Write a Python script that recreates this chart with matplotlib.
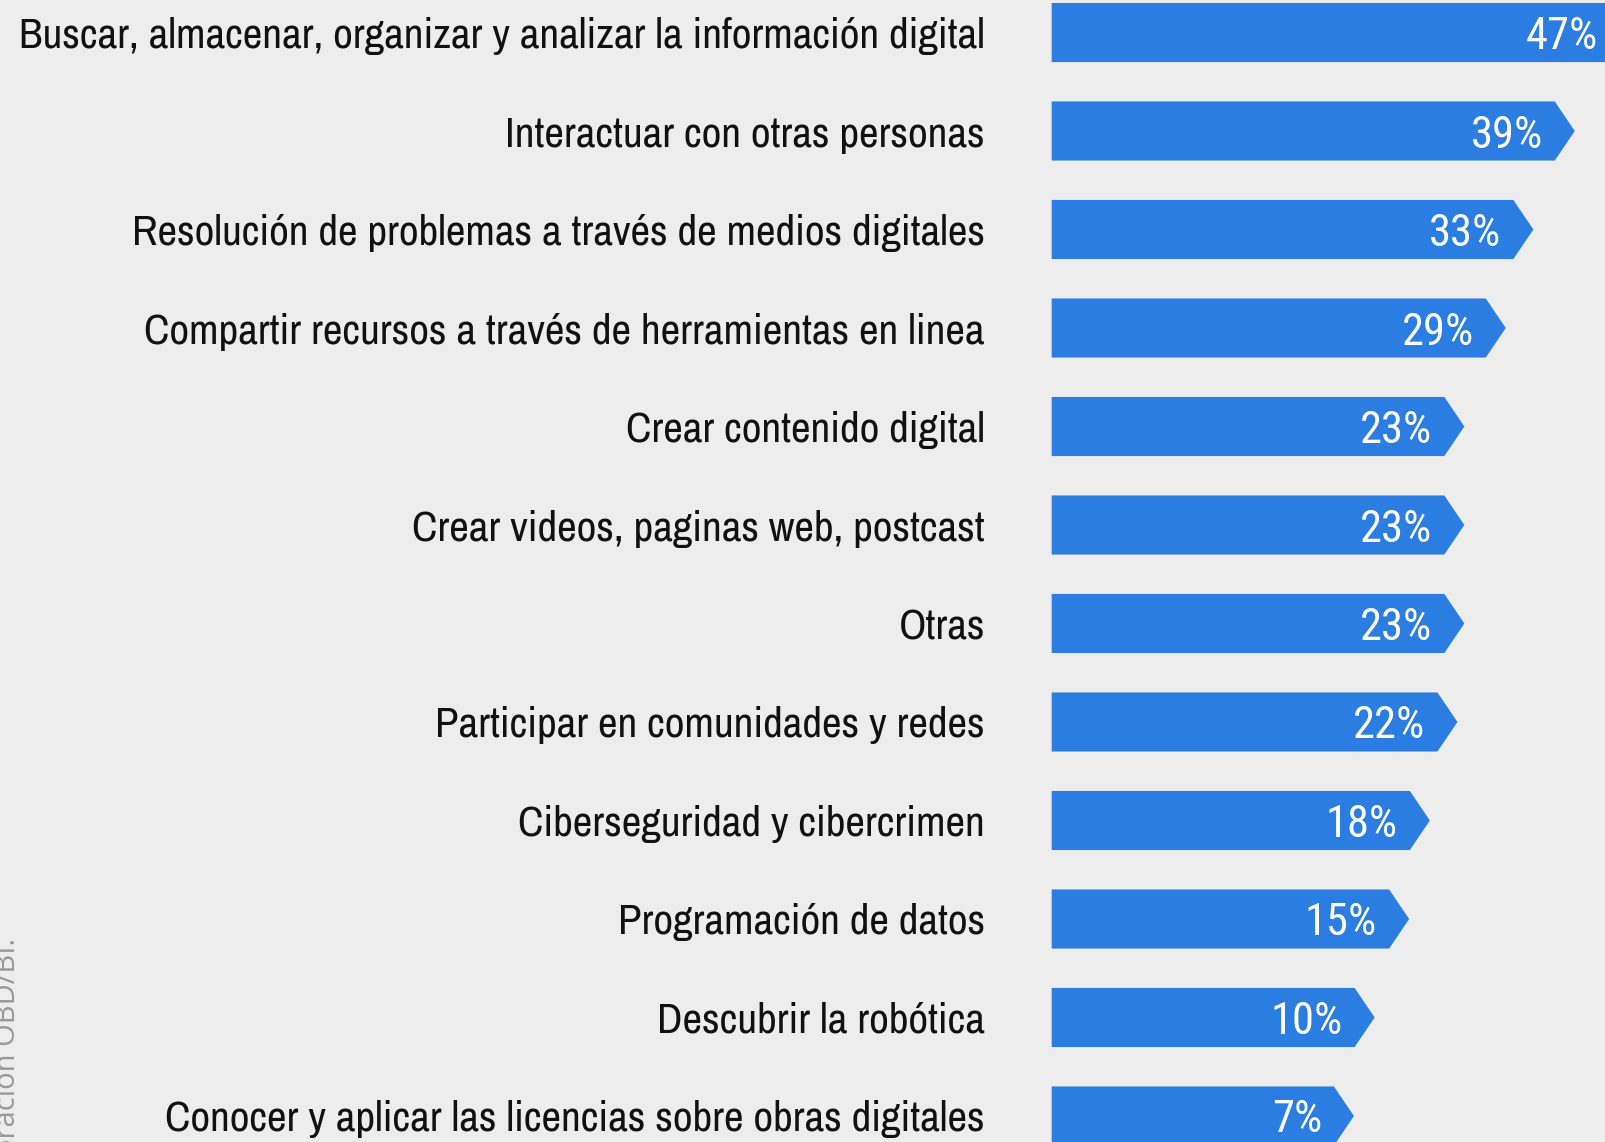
import numpy as np
import matplotlib.pyplot as plt
from matplotlib.transforms import blended_transform_factory

categorias = [
    "Buscar, almacenar, organizar y analizar la información digital",
    "Interactuar con otras personas",
    "Resolución de problemas a través de medios digitales",
    "Compartir recursos a través de herramientas en linea",
    "Crear contenido digital",
    "Crear videos, paginas web, postcast",
    "Otras",
    "Participar en comunidades y redes",
    "Ciberseguridad y cibercrimen",
    "Programación de datos",
    "Descubrir la robótica",
    "Conocer y aplicar las licencias sobre obras digitales",
]
valores = [47, 39, 33, 29, 23, 23, 23, 22, 18, 15, 10, 7]
fuente = "Fuente: Elaboración OBD/BI."

FONT = ["Archivo Narrow", "Roboto Condensed", "Liberation Sans", "DejaVu Sans"]
FONT_VAL = ["Roboto Condensed", "Archivo Narrow", "Liberation Sans", "DejaVu Sans"]
AZUL = "#2b7de1"
FONDO = "#ededed"

base = -33.9    # bars start left of zero (offset of the original artwork)
punta = 2.9     # arrow tip depth
alto = 0.30     # half bar height

fig = plt.figure(figsize=(16.05, 11.42), dpi=100)
fig.patch.set_facecolor(FONDO)
ax = fig.add_axes([0, 0, 1, 1])
ax.set_facecolor(FONDO)

for i, (cat, v) in enumerate(zip(categorias, valores)):
    xs = [base, v, v + punta, v, base]
    ys = [i - alto, i - alto, i, i + alto, i + alto]
    ax.fill(xs, ys, color=AZUL, lw=0)
    ax.text(v - 1.74, i, f"{v}%", color="white", ha="right", va="center_baseline",
            fontsize=32, family=FONT_VAL)

trans = blended_transform_factory(ax.transAxes, ax.transData)
for i, cat in enumerate(categorias):
    ax.text(0.6137, i, cat, transform=trans, ha="right", va="center_baseline",
            fontsize=31, color="#111111", family=FONT)

fig.text(22 / 1605, 1 - 938 / 1142, fuente, rotation=90, ha="right", va="top",
         fontsize=21, color="#999999", family=["Open Sans", "DejaVu Sans"])

ax.set_xlim(-186.3, 46.28)
ax.set_ylim(11.264, -0.330)
ax.axis("off")

plt.savefig("out.png", dpi=100, facecolor=FONDO)
plt.close(fig)
